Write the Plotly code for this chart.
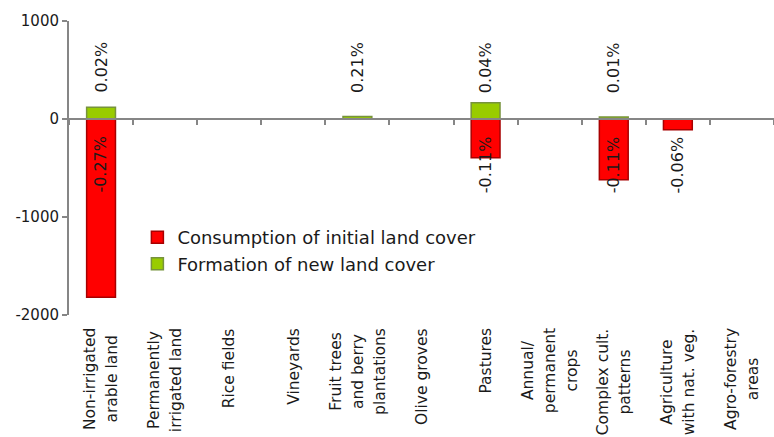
import plotly.graph_objects as go

# Agricultural land cover classes (x axis)
categories = [
    "Non-irrigated<br>arable land",
    "Permanently<br>irrigated land",
    "Rice fields",
    "Vineyards",
    "Fruit trees<br>and berry<br>plantations",
    "Olive groves",
    "Pastures",
    "Annual/<br>permanent<br>crops",
    "Complex cult.<br>patterns",
    "Agriculture<br>with nat. veg.",
    "Agro-forestry<br>areas",
]

# Land cover flows (ha); None where there is no flow
consumption = [-1818, None, None, None, None, None, -395, None, -620, -110, None]
formation = [120, None, None, None, 25, None, 165, None, 20, None, None]

# Share of initial land cover, printed next to the bars
consumption_pct = ["-0.27%", None, None, None, None, None, "-0.11%", None, "-0.11%", "-0.06%", None]
formation_pct = ["0.02%", None, None, None, "0.21%", None, "0.04%", None, "0.01%", None, None]

# Y axis ticks
y_tickvals = [-2000, -1000, 0, 1000]
y_ticktext = ["-2000", "-1000", "0", "1000"]

FONT = "DejaVu Sans"
AXIS_GREY = "#868686"
TEXT = "#1a1a1a"

x_idx = list(range(len(categories)))

fig = go.Figure()
fig.add_trace(go.Bar(
    x=x_idx, y=consumption, name="Consumption of initial land cover",
    marker=dict(color="#FF0000", line=dict(color="#A80000", width=1.5)),
    width=0.45,
))
fig.add_trace(go.Bar(
    x=x_idx, y=formation, name="Formation of new land cover",
    marker=dict(color="#99CC00", line=dict(color="#77933C", width=1.5)),
    width=0.45,
))

annotations = []
# Percentage labels, rotated
for i, (pc, pf) in enumerate(zip(consumption_pct, formation_pct)):
    if pf:
        annotations.append(dict(
            x=i, y=525, xref="x", yref="y", text=pf, textangle=-90,
            showarrow=False, xanchor="center", yanchor="middle",
            font=dict(family=FONT, size=16, color=TEXT),
        ))
    if pc:
        annotations.append(dict(
            x=i, y=-465, xref="x", yref="y", text=pc, textangle=-90,
            showarrow=False, xanchor="center", yanchor="middle",
            font=dict(family=FONT, size=16, color=TEXT),
        ))

# Category labels below the plot, rotated and centred line by line
for i, cat in enumerate(categories):
    lines = cat.split("<br>")
    txt = "<br>".join('<span style="font-size:15.5px">%s</span>' % ln for ln in lines)
    annotations.append(dict(
        x=i, y=0, xref="x", yref="paper", yshift=-11, text=txt, textangle=-90,
        showarrow=False, xanchor="center", yanchor="top", align="center",
        font=dict(family=FONT, size=17, color=TEXT),
    ))

fig.update_layout(
    width=774, height=437,
    margin=dict(l=69, r=0, t=21, b=122),
    paper_bgcolor="white", plot_bgcolor="white",
    barmode="relative",
    font=dict(family=FONT, size=15, color=TEXT),
    showlegend=True,
    legend=dict(
        x=0.097, y=0.326, xanchor="left", yanchor="top",
        font=dict(family=FONT, size=18, color=TEXT),
        bgcolor="rgba(0,0,0,0)", traceorder="normal",
        tracegroupgap=0,
    ),
    xaxis=dict(
        type="linear", range=[-0.5, len(categories) - 0.5],
        tickvals=[i - 0.5 for i in range(len(categories) + 1)],
        showticklabels=False,
        ticks="outside", ticklen=5, tickwidth=1.5, tickcolor=AXIS_GREY,
        showline=True, linecolor=AXIS_GREY, linewidth=2,
        showgrid=False, zeroline=False,
        anchor="free", position=2 / 3,
    ),
    yaxis=dict(
        range=[-2000, 1000],
        tickvals=y_tickvals, ticktext=y_ticktext,
        ticks="outside", ticklen=5, tickwidth=1.5, tickcolor=AXIS_GREY,
        showline=True, linecolor=AXIS_GREY, linewidth=2,
        showgrid=False, zeroline=False,
        tickfont=dict(family=FONT, size=15, color=TEXT),
    ),
    annotations=annotations,
)

fig.write_html("out.html")
